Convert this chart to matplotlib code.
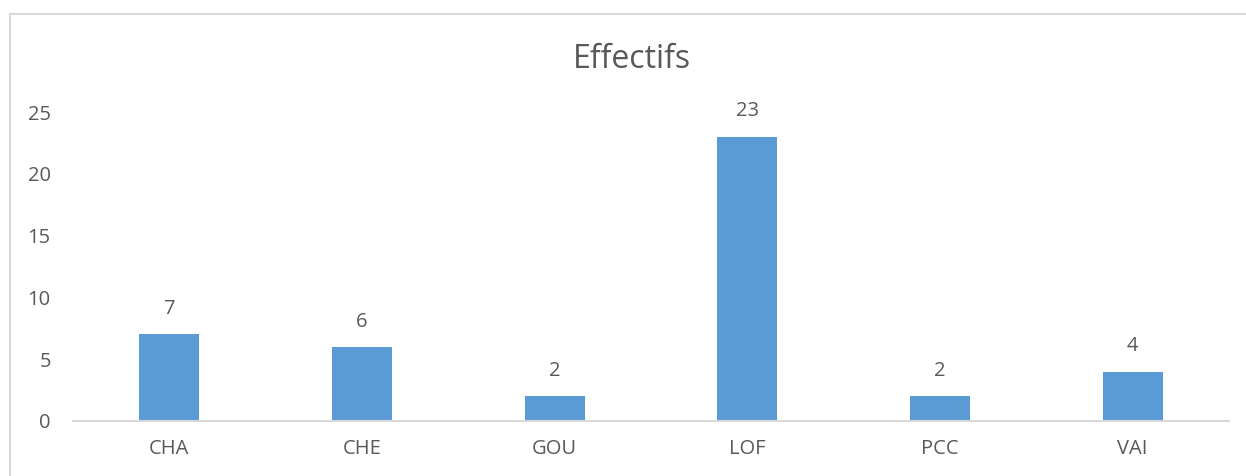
import matplotlib.pyplot as plt
from matplotlib.patches import Rectangle

categories = ['CHA', 'CHE', 'GOU', 'LOF', 'PCC', 'VAI']
effectifs = [7, 6, 2, 23, 2, 4]
yticks = [0, 5, 10, 15, 20, 25]

plt.rcParams['font.family'] = ['Open Sans', 'DejaVu Sans']
text_color = '#595959'

W, H = 1246, 476
fig = plt.figure(figsize=(W / 100, H / 100), dpi=100)

# outer chart border (cut off at right and bottom like the reference)
fig.patches.append(Rectangle((9.5 / W, -0.1), 1.2, 1.1 - 14.5 / H,
                             transform=fig.transFigure, fill=False,
                             edgecolor='#d9d9d9', linewidth=1.5))

ax = fig.add_axes([73 / W, (H - 421) / H, (1229 - 73) / W, (421 - 112) / H])

x = list(range(len(categories)))
bars = ax.bar(x, effectifs, width=0.31, color='#5b9bd5')
for xi, v in zip(x, effectifs):
    ax.annotate(str(v), (xi, v), xytext=(0, 11), textcoords='offset points',
                ha='center', va='bottom', fontsize=14.5, color=text_color)

ax.set_xlim(-0.5, len(categories) - 0.5)
ax.set_ylim(0, 25)
ax.set_yticks(yticks)
ax.set_xticks(x)
ax.set_xticklabels(categories)
ax.tick_params(axis='both', length=0, labelsize=14.5, labelcolor=text_color)
ax.tick_params(axis='y', pad=16)
ax.tick_params(axis='x', pad=13)

for s in ['top', 'right', 'left']:
    ax.spines[s].set_visible(False)
ax.spines['bottom'].set_color('#d9d9d9')
ax.spines['bottom'].set_linewidth(1.5)

fig.text(632 / W, 1 - 60 / H, 'Effectifs', ha='center', va='center',
         fontsize=23, color=text_color)

fig.savefig('out.png', dpi=100)
